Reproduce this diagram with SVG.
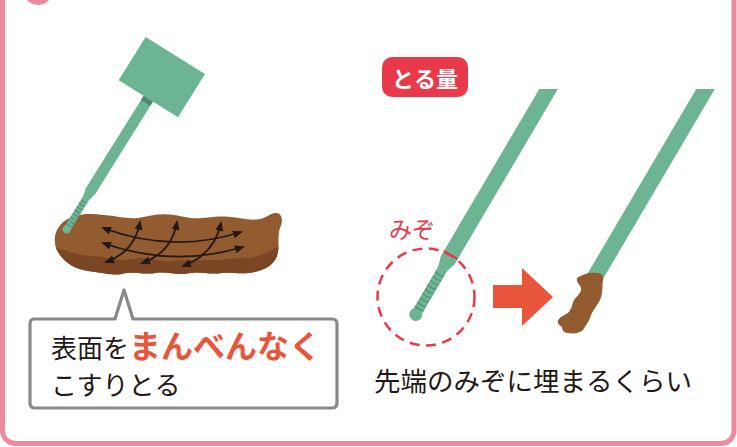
<svg xmlns="http://www.w3.org/2000/svg" width="737" height="447" viewBox="0 0 737 447">
  <style>
    .frame { fill: #ffffff; stroke: #ef8a9e; stroke-width: 5; }
    .swab { fill: #6cb492; }
    .swab-dark { fill: #4f8a76; }
    .ridge { fill: none; stroke: #4f8a76; stroke-width: 1; }
    .stool { fill: #925c30; }
    .stool-dark { fill: #7a4624; }
    .stroke-arrow { fill: none; stroke: #231815; stroke-width: 1.8; marker-start: url(#head); marker-end: url(#head); }
    .txt { font-family: "Noto Sans CJK JP", "Noto Sans", sans-serif; fill: #231815; }
    .accent { fill: #e9553a; font-weight: bold; }
    .red { fill: #e83a4b; }
  </style>
  <defs>
    <marker id="head" viewBox="0 0 10 8" refX="8" refY="4" markerWidth="10" markerHeight="8" markerUnits="userSpaceOnUse" orient="auto-start-reverse">
      <path d="M0,0 L10,4 L0,8 Z" fill="#231815"/>
    </marker>
    <path id="stool-shape" d="M 66,220 C 80,212 92,214 104,215 C 118,216 126,219 138,218 C 150,216 160,213 174,215 C 186,217 192,219 202,218 C 214,217 220,216 230,217 C 242,218 250,221 260,219 C 266,218 270,213 276,213 C 283,213 283,222 280,228 C 277,236 280,248 277,256 C 273,266 264,270 254,272 C 244,275 232,272 222,273 C 210,275 200,271 190,273 C 178,276 168,271 156,273 C 144,275 134,271 122,274 C 110,276 100,272 88,271 C 74,269 64,262 58,252 C 52,242 54,228 66,220 Z"/>
    <clipPath id="stool-clip"><use href="#stool-shape"/></clipPath>
    <clipPath id="top-cut" clipPathUnits="userSpaceOnUse"><rect x="0" y="89" width="737" height="400"/></clipPath>
  </defs>

  <!-- panel frame and number badge -->
  <rect class="frame" x="2.5" y="-30" width="731.5" height="473.5" rx="13"/>
  <circle cx="38" cy="-10" r="15" fill="#ef8a9e"/>

  <!-- left: stool sample with swab -->
  <g id="stool">
    <use href="#stool-shape" class="stool"/>
    <path class="stool-dark" clip-path="url(#stool-clip)" d="M 50,246 C 66,250 78,256 92,256 C 104,256 110,260 120,260 C 130,260 136,258 142,258 C 152,258 160,262 170,261 C 184,260 196,260 213,260 C 226,260 232,258 242,258 C 254,258 262,255 268,252 C 274,249 277,247 290,240 L 290,290 L 40,290 Z"/>
  </g>

  <g id="swab-left" transform="translate(148.3,98.7) rotate(32)">
    <rect class="swab" x="-35" y="-51" width="70" height="51"/>
    <rect class="swab" x="-5.5" y="0" width="11" height="110"/>
    <rect class="swab-dark" x="-5.5" y="0" width="11" height="5"/>
    <polygon class="swab" points="-5.5,109 5.5,109 3.5,118 -3.5,118"/>
    <rect class="swab" x="-3.5" y="117" width="7" height="37"/>
    <circle class="swab" cx="0" cy="154" r="4"/>
    <path class="ridge" d="M-3.5,121 q3.5,1.5 7,0 M-3.5,125 q3.5,1.5 7,0 M-3.5,129 q3.5,1.5 7,0 M-3.5,133 q3.5,1.5 7,0 M-3.5,137 q3.5,1.5 7,0 M-3.5,141 q3.5,1.5 7,0 M-3.5,145 q3.5,1.5 7,0 M-3.5,149 q3.5,1.5 7,0"/>
  </g>

  <!-- rubbing directions over the surface -->
  <g id="connectors">
    <path class="stroke-arrow" d="M 103,228 Q 173,254 241,232"/>
    <path class="stroke-arrow" d="M 103,243 Q 173,268 243,247"/>
    <path class="stroke-arrow" d="M 106,262 Q 134.5,252 140,222"/>
    <path class="stroke-arrow" d="M 142,263 Q 171.5,253 177,222"/>
    <path class="stroke-arrow" d="M 183,266 Q 214,255 221,223"/>
  </g>

  <!-- speech bubble -->
  <g id="bubble">
    <path d="M 34,319 H 115 L 124,290 L 133,319 H 332 Q 337,319 337,324 V 403 Q 337,408 332,408 H 35 Q 30,408 30,403 V 324 Q 30,319 34,319 Z" fill="#ffffff" stroke="#898989" stroke-width="3.2" stroke-linejoin="round"/>
    <text class="txt" x="51" y="358" font-size="26">表面を<tspan class="accent" font-size="32">まんべんなく</tspan></text>
    <text class="txt" x="51" y="395" font-size="26">こすりとる</text>
  </g>

  <!-- right: amount to collect -->
  <g id="badge">
    <rect class="red" x="382" y="57" width="86" height="40" rx="10"/>
    <text class="txt" x="425" y="87" font-size="22" font-weight="bold" fill="#ffffff" text-anchor="middle" style="fill:#ffffff">とる量</text>
  </g>

  <g id="swab-empty" clip-path="url(#top-cut)">
    <g transform="translate(450.8,255) rotate(30.5)">
      <rect class="swab" x="-8" y="-200" width="16" height="200"/>
      <polygon class="swab" points="-8,-1 8,-1 8,6 5,16 -5,16 -8,6"/>
      <rect class="swab" x="-5" y="15" width="10" height="54"/>
      <circle class="swab" cx="0" cy="69" r="6.5"/>
      <path class="ridge" d="M-5,22 q5,2 10,0 M-5,27 q5,2 10,0 M-5,32 q5,2 10,0 M-5,37 q5,2 10,0 M-5,42 q5,2 10,0 M-5,47 q5,2 10,0 M-5,52 q5,2 10,0 M-5,57 q5,2 10,0 M-5,62 q5,2 10,0"/>
      <line x1="-8" y1="0" x2="8" y2="0" stroke="#e83a4b" stroke-width="2"/>
    </g>
  </g>

  <g id="groove-mark">
    <circle cx="426" cy="297" r="48.5" fill="none" stroke="#e83a4b" stroke-width="2.5" stroke-dasharray="10 6.5"/>
    <text class="txt" x="389" y="238" font-size="23" style="fill:#e83a4b">みぞ</text>
  </g>

  <g id="next-arrow">
    <polygon points="493,285 522,285 522,268 553,297 522,326 522,308 493,308" fill="#e9553a"/>
  </g>

  <g id="swab-loaded">
    <g clip-path="url(#top-cut)">
      <g transform="translate(596,275) rotate(30.5)">
        <rect class="swab" x="-8" y="-220" width="16" height="230"/>
      </g>
    </g>
    <path class="stool" d="M 577,278 C 583,274 590,272 597,273 C 601,273 604,275 603,280 C 602,287 603,294 600,300 C 597,306 592,311 590,318 C 588,323 585,326 583,330 C 580,333 574,334 568,333 C 564,333 562,330 562,327 C 559,325 556,322 559,319 C 561,316 565,315 568,313 C 572,309 572,304 574,300 C 577,296 582,292 581,288 C 580,284 576,283 577,278 Z"/>
  </g>

  <text class="txt" x="374" y="391" font-size="26.5">先端のみぞに埋まるくらい</text>
</svg>
